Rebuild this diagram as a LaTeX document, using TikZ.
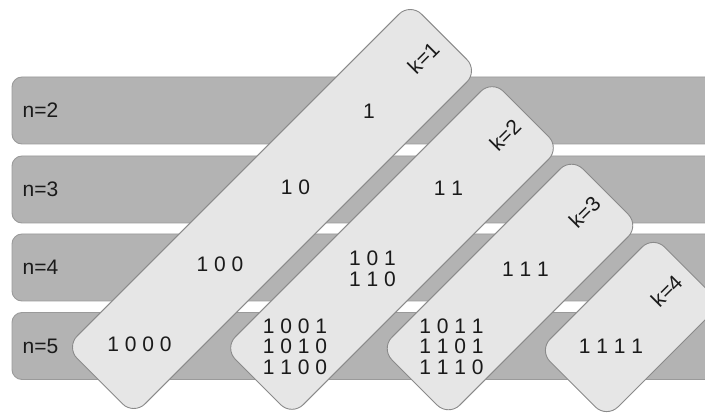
\documentclass[tikz,border=0pt]{standalone}
\usepackage{fontspec}
\setmainfont{Liberation Sans}
\usetikzlibrary{calc}
\definecolor{bandfill}{HTML}{B3B3B3}
\definecolor{banddraw}{HTML}{9A9A9A}
\definecolor{boxfill}{HTML}{E6E6E6}
\definecolor{boxdraw}{HTML}{8A8A8A}
\definecolor{txt}{HTML}{1A1A1A}
\begin{document}
\begin{tikzpicture}[x=1pt,y=1pt,
  band/.style={draw=banddraw, fill=bandfill, line width=0.9pt, rounded corners=10pt,
    minimum width=718pt, minimum height=67pt, inner sep=0pt},
  kbox/.style={draw=boxdraw, fill=boxfill, line width=0.9pt, rounded corners=16pt,
    minimum height=96pt, inner sep=0pt, rotate=45},
  lab/.style={text=txt, font=\fontsize{21}{21}\selectfont, inner sep=0pt},
  num/.style={text=txt, font=\fontsize{21}{20.5}\selectfont, inner sep=0pt, align=center},
]
\useasboundingbox (0,0) rectangle (705,413);
\clip (0,0) rectangle (705,413);
\fill[white] (0,0) rectangle (705,413);
% bands
\node[band] (b2) at (371,302.5) {};
\node[band] (b3) at (371,223.5) {};
\node[band] (b4) at (371,145.5) {};
\node[band] (b5) at (371,67) {};
\node[lab, anchor=west] (n2) at ([xshift=11pt]b2.west) {n=2};
\node[lab, anchor=west] (n3) at ([xshift=11pt]b3.west) {n=3};
\node[lab, anchor=west] (n4) at ([xshift=11pt]b4.west) {n=4};
\node[lab, anchor=west] (n5) at ([xshift=11pt]b5.west) {n=5};
% diagonal boxes
\node[kbox, minimum width=487pt] (k1) at (272,204) {};
\node[kbox, minimum width=379pt] (k2) at (392,165) {};
\node[kbox, minimum width=270pt] (k3) at (510,126) {};
\node[kbox, minimum width=162pt] (k4) at (630,86) {};
\node[lab, rotate=45] (kl1) at ($(k1.east)!30pt!(k1.center)$) {k=1};
\node[lab, rotate=45] (kl2) at ($(k2.east)!30pt!(k2.center)$) {k=2};
\node[lab, rotate=45] (kl3) at ($(k3.east)!30pt!(k3.center)$) {k=3};
\node[lab, rotate=45] (kl4) at ($(k4.east)!30pt!(k4.center)$) {k=4};
% numbers
\node[num] (s21) at (369,301.5) {1};
\node[num] (s31) at (295.5,225.5) {1 0};
\node[num] (s32) at (448.5,225) {1 1};
\node[num] (s41) at (220,148.5) {1 0 0};
\node[num] (s42) at (372.5,144) {1 0 1\\1 1 0};
\node[num] (s43) at (525.5,144) {1 1 1};
\node[num] (s51) at (139.5,69) {1 0 0 0};
\node[num] (s52) at (295,66.5) {1 0 0 1\\1 0 1 0\\1 1 0 0};
\node[num] (s53) at (451.5,66.5) {1 0 1 1\\1 1 0 1\\1 1 1 0};
\node[num] (s54) at (611,66.5) {1 1 1 1};
\end{tikzpicture}
\end{document}
